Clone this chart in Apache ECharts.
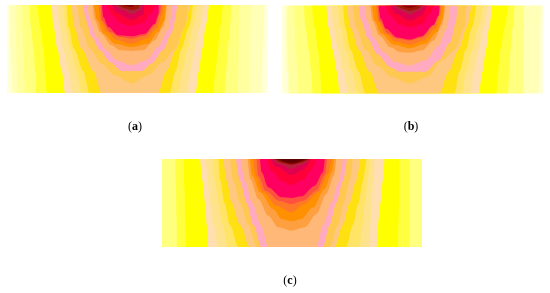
<!DOCTYPE html>
<html>
<head>
<meta charset="utf-8">
<script src="https://cdn.jsdelivr.net/npm/echarts@6/dist/echarts.min.js"></script>
<style>html,body{margin:0;padding:0;background:#fff}#main{width:550px;height:293px}</style>
</head>
<body>
<div id="main"></div>
<script>
// band colours, outermost contour first
const levelColors = ['#ffffb8', '#ffffa0', '#ffff80', '#ffff40', '#ffff00', '#ffdfb0', '#ffe38c', '#ffe468',
    '#ffe010', '#ffc880', '#ffc850', '#ffaac0', '#ffb878', '#ffa040', '#ff9000', '#ff7828', '#ff5040',
    '#ff0060', '#ff0038', '#e00050', '#b82040', '#a01808', '#850000', '#600000'];

const panelLabels = ['a', 'b', 'c'];

// contours: [x, depth], x 0-783, depth 0-264
const contoursA = [
    [[8,0],[8,66],[10,132],[12,198],[18,264],[765,264],[768,198],[770,132],[772,66],[775,0]],
    [[25,0],[26,66],[28,132],[30,198],[30,264],[730,264],[730,198],[732,132],[733,66],[735,0]],
    [[46,0],[46,66],[50,132],[52,198],[54,264],[695,264],[697,198],[698,132],[699,66],[700,0]],
    [[68,0],[72,66],[80,132],[85,198],[88,264],[655,264],[660,198],[665,132],[672,66],[675,0]],
    [[92,0],[100,66],[110,132],[115,198],[120,264],[620,264],[628,198],[635,132],[642,66],[650,0]],
    [[135,0],[140,66],[152,132],[165,198],[175,264],[568,264],[578,198],[588,132],[598,66],[608,0]],
    [[152,0],[158,66],[170,132],[185,198],[200,264],[542,264],[552,198],[566,132],[580,66],[592,0]],
    [[170,0],[176,66],[190,132],[210,198],[225,264],[515,264],[528,198],[545,132],[560,66],[572,0]],
    [[180,0],[185,66],[202,132],[230,198],[248,264],[490,264],[508,198],[525,132],[548,66],[560,0]],
    [[195,0],[202,66],[225,132],[260,198],[285,264],[455,264],[480,198],[510,132],[535,66],[550,0]],
    [[212,0],[222,66],[250,132],[285,176],[325,211],[375,236],[425,211],[470,171],[505,132],[535,66],[545,0]],
    [[230,0],[238,46],[255,96],[280,136],[310,171],[345,198],[405,198],[435,176],[470,136],[495,86],[513,0]],
    [[242,0],[250,46],[270,96],[300,136],[330,166],[375,181],[420,166],[455,126],[485,76],[498,0]],
    [[258,0],[265,46],[280,81],[315,121],[340,136],[375,138],[410,136],[445,106],[470,66],[482,0]],
    [[262,0],[272,46],[290,86],[325,116],[375,126],[425,116],[455,81],[475,46],[478,0]],
    [[276,0],[280,46],[300,81],[330,104],[375,116],[420,101],[450,71],[468,26],[470,0]],
    [[282,0],[285,46],[310,81],[340,96],[375,101],[415,92],[447,60],[462,20],[464,0]],
    [[286,0],[290,36],[305,66],[335,91],[375,94],[415,86],[445,56],[457,26],[457,0]],
    [[303,0],[316,31],[345,56],[375,63],[410,54],[432,26],[447,0]],
    [[315,0],[330,24],[375,45],[410,30],[414,0]],
    [[324,0],[350,16],[375,28],[405,16],[408,0]],
    [[333,0],[360,11],[375,15],[395,11],[400,0]],
    [[348,0],[375,6],[384,0]]
];

const contoursB = [
    [[12,0],[10,66],[12,132],[14,198],[20,264],[770,264],[772,198],[773,132],[775,66],[778,0]],
    [[16,0],[16,66],[18,132],[20,198],[22,264],[722,264],[724,198],[725,132],[726,66],[728,0]],
    [[36,0],[38,66],[42,132],[46,198],[50,264],[723,264],[723,198],[723,132],[723,66],[723,0]],
    [[66,0],[70,66],[80,132],[88,198],[92,264],[678,264],[682,198],[686,132],[692,66],[698,0]],
    [[90,0],[98,66],[108,132],[115,198],[118,264],[643,264],[648,198],[655,132],[668,66],[678,0]],
    [[133,0],[140,66],[152,132],[165,198],[173,264],[590,264],[602,198],[612,132],[622,66],[630,0]],
    [[148,0],[155,66],[168,132],[185,198],[200,264],[563,264],[575,198],[590,132],[605,66],[618,0]],
    [[168,0],[175,66],[190,132],[210,198],[228,264],[540,264],[552,198],[572,132],[590,66],[603,0]],
    [[183,0],[190,66],[205,132],[230,198],[250,264],[518,264],[532,198],[552,132],[570,66],[583,0]],
    [[196,0],[205,66],[230,132],[262,198],[293,264],[473,264],[500,198],[530,132],[555,66],[568,0]],
    [[212,0],[222,66],[250,132],[285,180],[330,215],[383,234],[435,215],[480,165],[520,132],[548,66],[553,0]],
    [[230,0],[238,46],[258,100],[285,145],[325,185],[355,199],[430,199],[470,165],[505,110],[522,50],[526,0]],
    [[248,0],[255,46],[275,96],[305,140],[340,170],[383,180],[430,165],[470,120],[495,70],[505,0]],
    [[265,0],[272,46],[292,90],[325,125],[355,140],[383,142],[420,135],[455,105],[480,60],[490,0]],
    [[270,0],[278,46],[298,85],[335,118],[383,128],[430,115],[465,80],[482,40],[486,0]],
    [[282,0],[288,46],[310,85],[340,108],[383,118],[425,105],[460,70],[476,26],[478,0]],
    [[287,0],[292,46],[318,85],[345,100],[383,105],[420,95],[456,60],[472,20],[474,0]],
    [[290,0],[296,40],[312,70],[345,96],[383,102],[420,92],[455,58],[470,30],[473,0]],
    [[312,0],[326,31],[352,56],[383,66],[420,56],[442,26],[456,0]],
    [[323,0],[340,24],[383,46],[420,30],[436,0]],
    [[332,0],[358,16],[383,28],[412,16],[426,0]],
    [[342,0],[368,11],[383,16],[405,11],[420,0]],
    [[356,0],[383,7],[410,0]]
];

const contoursC = [
    [[0,0],[0,264],[783,264],[783,0]],
    [[0,0],[0,264],[783,264],[783,0]],
    [[0,0],[0,264],[783,264],[783,0]],
    [[40,0],[42,88],[44,176],[45,264],[745,264],[745,176],[745,88],[745,0]],
    [[65,0],[68,88],[70,176],[72,264],[710,264],[712,198],[714,132],[715,66],[715,0]],
    [[115,0],[122,66],[130,132],[135,198],[137,264],[647,264],[650,198],[658,132],[665,66],[670,0]],
    [[133,0],[138,66],[145,132],[155,198],[170,264],[625,264],[628,198],[632,132],[636,66],[640,0]],
    [[155,0],[160,66],[170,132],[182,198],[200,264],[595,264],[604,198],[612,132],[620,66],[625,0]],
    [[170,0],[176,66],[188,132],[205,198],[230,264],[555,264],[575,198],[592,132],[605,66],[615,0]],
    [[185,0],[195,66],[210,132],[235,198],[265,264],[520,264],[545,198],[565,132],[585,66],[597,0]],
    [[205,0],[215,66],[235,132],[260,198],[285,264],[505,264],[530,198],[548,132],[565,66],[575,0]],
    [[223,0],[235,66],[255,132],[275,198],[300,264],[485,264],[505,198],[525,132],[545,66],[557,0]],
    [[237,0],[250,66],[272,132],[298,198],[320,264],[465,264],[485,198],[510,132],[532,66],[545,0]],
    [[258,0],[266,60],[290,120],[320,170],[350,205],[390,215],[430,205],[465,165],[495,105],[518,50],[525,0]],
    [[265,0],[272,50],[295,100],[335,150],[360,180],[390,187],[420,180],[455,145],[490,90],[512,40],[518,0]],
    [[275,0],[282,50],[305,100],[345,140],[390,160],[430,135],[470,100],[500,45],[510,0]],
    [[285,0],[290,50],[312,95],[352,125],[390,135],[425,125],[465,95],[492,45],[497,0]],
    [[295,0],[300,40],[320,85],[360,115],[390,117],[420,112],[460,80],[485,40],[490,0]],
    [[316,0],[330,36],[360,66],[390,78],[425,62],[452,30],[465,0]],
    [[325,0],[345,24],[390,48],[425,32],[448,0]],
    [[332,0],[358,18],[390,30],[420,18],[446,0]],
    [[338,0],[365,13],[390,18],[415,12],[444,0]],
    [[342,0],[390,15],[440,0]],
    [[348,0],[390,12],[432,0]]
];

const panelContours = [contoursA, contoursB, contoursC];

const chart = echarts.init(document.getElementById('main'), null, { renderer: 'canvas' });

const grids = [
    { left: 7, top: 5, width: 260, height: 88 },
    { left: 282, top: 5.5, width: 261, height: 88 },
    { left: 162, top: 159, width: 260, height: 88 }
];
const labelPos = [[135, 121], [411, 121], [290, 275]];

const series = [];
panelContours.forEach(function (contours, p) {
    contours.forEach(function (pts, i) {
        series.push({
            type: 'line',
            xAxisIndex: p,
            yAxisIndex: p,
            data: pts,
            showSymbol: false,
            silent: true,
            smooth: 0.3,
            smoothMonotone: 'x',
            lineStyle: { width: 0 },
            areaStyle: { color: levelColors[i], opacity: 1, origin: 'start' },
            z: 2 + i / 100
        });
    });
});

const option = {
    animation: false,
    backgroundColor: '#ffffff',
    grid: grids.map(function (g) {
        return Object.assign({ show: true, backgroundColor: '#ffffd8', borderWidth: 0 }, g);
    }),
    xAxis: grids.map(function (g, i) {
        return { type: 'value', gridIndex: i, min: 0, max: 783, show: false };
    }),
    yAxis: grids.map(function (g, i) {
        return { type: 'value', gridIndex: i, min: 0, max: 264, inverse: true, show: false };
    }),
    title: panelLabels.map(function (t, i) {
        return {
            text: '(' + '{b|' + t + '})',
            left: labelPos[i][0],
            top: labelPos[i][1],
            textAlign: 'center',
            padding: 0,
            textStyle: {
                fontFamily: 'Liberation Serif',
                fontSize: 12,
                fontWeight: 'normal',
                color: '#000',
                rich: { b: { fontFamily: 'Liberation Serif', fontSize: 12, fontWeight: 'bold', color: '#000' } }
            }
        };
    }),
    series: series
};

chart.setOption(option);
</script>
</body>
</html>
